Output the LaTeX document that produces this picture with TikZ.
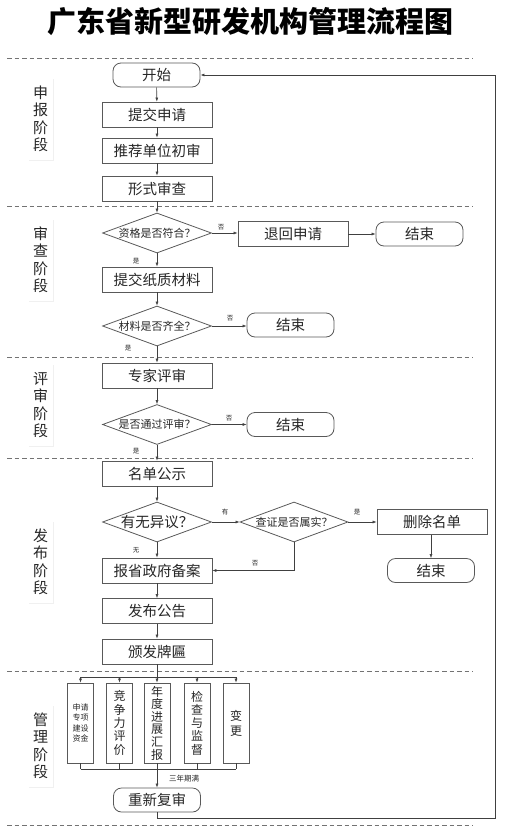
\documentclass[tikz,border=0pt]{standalone}
\usepackage{fontspec}
\setmainfont{Noto Sans CJK SC}
\usetikzlibrary{shapes.geometric,arrows.meta,shadows}
\begin{document}
\begin{tikzpicture}[x=1pt,y=-1pt,
  every node/.style={inner sep=0pt, text=black!85},
  line/.style={draw=black!75, line width=0.6pt},
  arr/.style={line, -{Latex[length=4pt,width=3pt]}},
  proc/.style={draw=black!65, line width=0.8pt, minimum width=110pt, minimum height=25pt, font=\fontsize{14.5}{16}\selectfont},
  term/.style={proc, rounded corners=8pt, minimum width=87pt, minimum height=24pt},
  dia/.style={diamond, draw=black!65, line width=0.8pt, minimum width=109pt, minimum height=40pt},
  dtext/.style={font=\fontsize{11}{12}\selectfont},
  lab/.style={font=\fontsize{6.5}{7}\selectfont},
  stage/.style={fill=white, minimum width=25pt, minimum height=82pt, align=center,
     font=\fontsize{15}{17.5}\selectfont, drop shadow={opacity=0.12, shadow xshift=1pt, shadow yshift=-1pt}},
  vbox/.style={draw=black!65, line width=0.8pt, minimum width=26pt, minimum height=80pt, align=center},
  dashline/.style={draw=black!55, line width=0.6pt, dash pattern=on 4.5pt off 3pt}
]
\useasboundingbox (0,0) rectangle (509,838);

% title
\node[font=\fontsize{29}{32}\selectfont\bfseries, text=black] (title) at (250,22) {广东省新型研发机构管理流程图};

% dashed separators
\draw[dashline] (7,58) -- (473,58);
\draw[dashline] (7,206) -- (473,206);
\draw[dashline] (7,357) -- (473,357);
\draw[dashline] (7,458) -- (473,458);
\draw[dashline] (7,671) -- (473,671);
\draw[dashline] (7,825) -- (473,825);

% stage labels
\node[stage] (st1) at (40.5,119) {申\\报\\阶\\段};
\node[stage] (st2) at (40.5,260) {审\\查\\阶\\段};
\node[stage] (st3) at (40.5,405) {评\\审\\阶\\段};
\node[stage] (st4) at (40.5,562) {发\\布\\阶\\段};
\node[stage] (st5) at (40.5,746) {管\\理\\阶\\段};

% stage 1
\node[term] (start) at (156.5,75) {开始};
\node[proc] (s1) at (157,114.5) {提交申请};
\node[proc] (s2) at (157,150.5) {推荐单位初审};
\node[proc] (s3) at (157,188.5) {形式审查};

% stage 2
\node[dia, label={[dtext]center:资格是否符合？}] (d1) at (157,233) {};
\node[proc] (ret) at (293,234) {退回申请};
\node[term] (end1) at (419.5,234) {结束};
\node[proc] (s4) at (157,279.5) {提交纸质材料};
\node[dia, label={[dtext]center:材料是否齐全？}] (d2) at (157,326) {};
\node[term] (end2) at (290.5,325) {结束};

% stage 3
\node[proc] (s5) at (157,375.5) {专家评审};
\node[dia, label={[dtext]center:是否通过评审？}] (d3) at (157,424.5) {};
\node[term] (end3) at (290.5,424.5) {结束};

% stage 4
\node[proc] (s6) at (157,473.5) {名单公示};
\node[dia, label={[font=\fontsize{14.5}{16}\selectfont]center:有无异议？}] (d4) at (157,522) {};
\node[dia, minimum width=108pt, label={[dtext]center:查证是否属实？}] (d5) at (294,522) {};
\node[proc] (del) at (432,522) {删除名单};
\node[term] (end4) at (431,570.5) {结束};
\node[proc] (report) at (157,570.5) {报省政府备案};
\node[proc] (pub) at (157,611) {发布公告};
\node[proc] (award) at (157,651.5) {颁发牌匾};

% stage 5
\node[vbox, font=\fontsize{8}{10.5}\selectfont] (m1) at (80.5,723) {申请\\专项\\建设\\资金};
\node[vbox, font=\fontsize{12}{13.3}\selectfont] (m2) at (119.5,723) {竞\\争\\力\\评\\价};
\node[vbox, font=\fontsize{12}{12.6}\selectfont] (m3) at (157,723) {年\\度\\进\\展\\汇\\报};
\node[vbox, font=\fontsize{12}{13.3}\selectfont] (m4) at (197,723) {检\\查\\与\\监\\督};
\node[vbox, font=\fontsize{12}{15}\selectfont] (m5) at (236,723) {变\\更};
\node[term] (review) at (157,800) {重新复审};

% small labels
\node[lab] (l1) at (221,227) {否};
\node[lab] (l2) at (136,261) {是};
\node[lab] (l3) at (230,318) {否};
\node[lab] (l4) at (128,348) {是};
\node[lab] (l5) at (229,418) {否};
\node[lab] (l6) at (136,451) {是};
\node[lab] (l7) at (225,512) {有};
\node[lab] (l8) at (357,512) {是};
\node[lab] (l9) at (136,550) {无};
\node[lab] (l10) at (255,563) {否};
\node[font=\fontsize{7.5}{8}\selectfont] (l11) at (184,779) {三年期满};

% connectors
\draw[arr] (start) -- (s1);
\draw[arr] (s1) -- (s2);
\draw[arr] (s2) -- (s3);
\draw[arr] (s3) -- (d1);
\draw[arr] (d1.east) -- (d1.east -| ret.west);
\draw[arr] (ret) -- (end1);
\draw[arr] (d1) -- (s4);
\draw[arr] (s4) -- (d2);
\draw[arr] (d2.east) -- (d2.east -| end2.west);
\draw[arr] (d2) -- (s5);
\draw[arr] (s5) -- (d3);
\draw[arr] (d3) -- (end3);
\draw[arr] (d3) -- (s6);
\draw[arr] (s6) -- (d4);
\draw[arr] (d4) -- (d5);
\draw[arr] (d5) -- (del);
\draw[arr] (del.south -| end4.north) -- (end4);
\draw[arr] (d4) -- (report);
\draw[arr] (d5.south) |- (report.east);
\draw[arr] (report) -- (pub);
\draw[arr] (pub) -- (award);

\coordinate (br) at (157,677);
\coordinate (jn) at (157,769);
\draw[line] (award.south) -- (br);
\draw[line] (m1.north |- br) -- (m5.north |- br);
\foreach \m in {m1,m2,m3,m4,m5} {
  \draw[arr] (\m.north |- br) -- (\m.north);
  \draw[line] (\m.south) -- (\m.south |- jn);
}
\draw[line] (m1.south |- jn) -- (m5.south |- jn);
\draw[arr] (jn) -- (review.north);

\coordinate (rb) at (495,818);
\draw[arr, line width=0.9pt] (review.south) |- (rb) |- (start.east);
\end{tikzpicture}
\end{document}
